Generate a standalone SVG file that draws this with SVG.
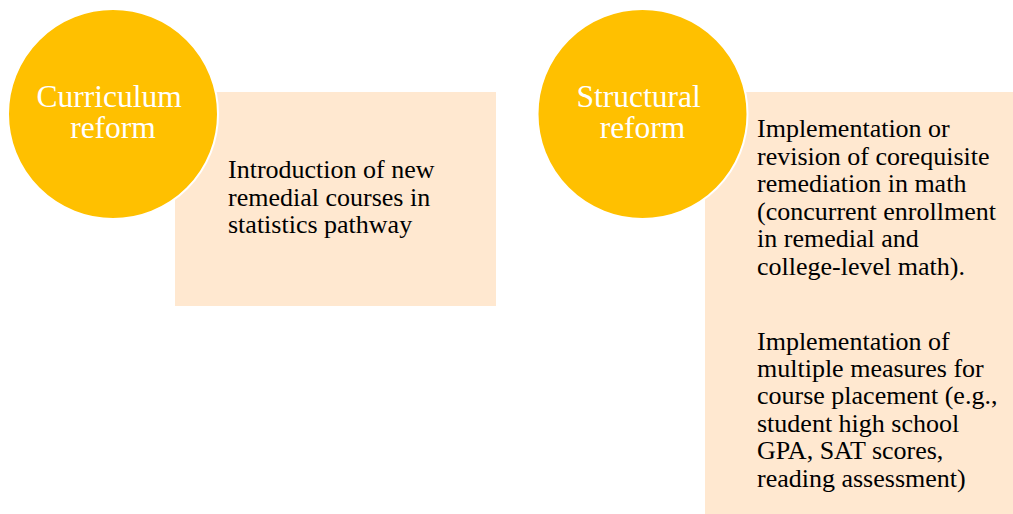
<svg xmlns="http://www.w3.org/2000/svg" width="1013" height="514" viewBox="0 0 1013 514">
  <style>
    .box { fill: #FFE8D0; }
    .disc { fill: #FFC000; stroke: #FFFFFF; stroke-width: 2; }
    .title { font-family: "Liberation Serif", "Times New Roman", serif; font-size: 31.5px; fill: #FFFFFF; text-anchor: middle; }
    .body { font-family: "Liberation Serif", "Times New Roman", serif; font-size: 26px; fill: #000000; }
  </style>
  <rect width="1013" height="514" fill="#FFFFFF"/>

  <!-- Curriculum reform -->
  <g id="curriculum-detail">
    <rect class="box" x="175" y="92" width="321" height="214"/>
    <text class="body" x="228">
      <tspan x="228" y="178">Introduction of new</tspan>
      <tspan x="228" y="206">remedial courses in</tspan>
      <tspan x="228" y="233">statistics pathway</tspan>
    </text>
  </g>
  <g id="curriculum-reform">
    <circle class="disc" cx="113" cy="114" r="105"/>
    <text class="title">
      <tspan x="113" y="107">Curriculum</tspan>
      <tspan x="113" y="138">reform</tspan>
    </text>
  </g>

  <!-- Structural reform -->
  <g id="structural-detail">
    <rect class="box" x="705" y="92" width="308" height="422"/>
    <text class="body">
      <tspan x="757" y="137">Implementation or</tspan>
      <tspan x="757" y="165">revision of corequisite</tspan>
      <tspan x="757" y="192">remediation in math</tspan>
      <tspan x="757" y="220">(concurrent enrollment</tspan>
      <tspan x="757" y="247">in remedial and</tspan>
      <tspan x="757" y="275">college-level math).</tspan>
    </text>
    <text class="body">
      <tspan x="757" y="350">Implementation of</tspan>
      <tspan x="757" y="377">multiple measures for</tspan>
      <tspan x="757" y="404">course placement (e.g.,</tspan>
      <tspan x="757" y="432">student high school</tspan>
      <tspan x="757" y="459">GPA, SAT scores,</tspan>
      <tspan x="757" y="487">reading assessment)</tspan>
    </text>
  </g>
  <g id="structural-reform">
    <circle class="disc" cx="642.5" cy="114" r="105"/>
    <text class="title">
      <tspan x="642.5" y="107">Structural</tspan>
      <tspan x="642.5" y="138">reform</tspan>
    </text>
  </g>

  <g id="connectors"/>
</svg>
